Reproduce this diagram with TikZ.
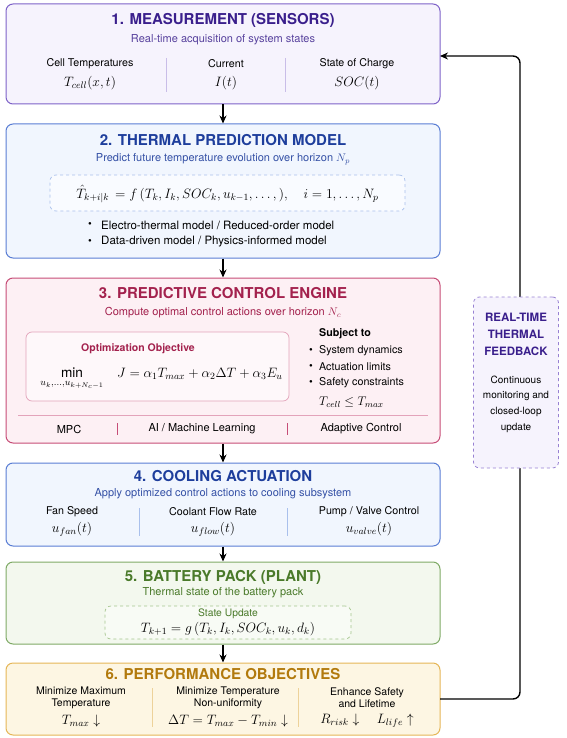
\RequirePackage{fix-cm}
\documentclass[tikz,border=0pt]{standalone}
\usepackage{amsmath}
\usepackage{fontspec}
\setmainfont{TeX Gyre Heros}
\usetikzlibrary{arrows.meta}

% stage palettes
\definecolor{pBd}{HTML}{7E62C8}\definecolor{pFill}{HTML}{F6F3FD}\definecolor{pT}{HTML}{3A1F8C}\definecolor{pSep}{HTML}{C9BDE8}
\definecolor{bBd}{HTML}{5A7ED4}\definecolor{bFill}{HTML}{F1F6FE}\definecolor{bT}{HTML}{1E3E9C}\definecolor{bSep}{HTML}{A9C0EC}
\definecolor{rBd}{HTML}{C64D77}\definecolor{rFill}{HTML}{FDF0F4}\definecolor{rT}{HTML}{A3214D}\definecolor{rSep}{HTML}{E3A3BA}
\definecolor{gBd}{HTML}{7FAA66}\definecolor{gFill}{HTML}{F3F8EE}\definecolor{gT}{HTML}{4A7A2A}\definecolor{gSep}{HTML}{A5C68E}
\definecolor{yBd}{HTML}{E5B657}\definecolor{yFill}{HTML}{FDF6E3}\definecolor{yT}{HTML}{B27A0D}\definecolor{ySep}{HTML}{EDD29A}

\newcommand\ttl{\fontsize{15}{18}\selectfont\bfseries}
\newcommand\sbt{\fontsize{11}{13}\selectfont}
\newcommand\lbl{\fontsize{10.7}{12}\selectfont}
\newcommand\mth{\fontsize{13.6}{16}\selectfont}

\tikzset{
  stage/.style={draw, rounded corners=7pt, line width=1pt, minimum width=434pt, inner sep=0pt},
  inner/.style={rounded corners=6pt, line width=0.7pt, inner sep=0pt},
  sep/.style={line width=0.8pt},
  flow/.style={line width=1.4pt, -{Stealth[length=8pt,width=7pt]}},
  txt/.style={inner sep=0pt, align=center},
  bul/.style={inner sep=0pt, anchor=west},
}

\begin{document}
\begin{tikzpicture}[x=1pt,y=-1pt]
\useasboundingbox (0,0) rectangle (566,738);

% stage boxes
\node[stage, draw=pBd, fill=pFill, minimum height=100pt] (b1) at (223,54) {};
\node[stage, draw=bBd, fill=bFill, minimum height=134pt] (b2) at (223,191) {};
\node[stage, draw=rBd, fill=rFill, minimum height=165pt] (b3) at (223,360.5) {};
\node[stage, draw=bBd, fill=bFill, minimum height=83pt] (b4) at (223,504.5) {};
\node[stage, draw=gBd, fill=gFill, minimum height=82pt] (b5) at (223,603) {};
\node[stage, draw=yBd, fill=yFill, minimum height=72pt] (b6) at (223,699) {};

% feedback loop (drawn first so the note box covers it)
\coordinate (fbin) at (440,56);
\coordinate (fbout) at (440,699);
\draw[flow, rounded corners=7pt] (fbout) -- (520,699) -- (520,56) -- (fbin);

\node[draw=pBd!80, dashed, fill=pFill, rounded corners=6pt, line width=0.8pt,
      minimum width=85pt, minimum height=171pt] (fb) at (516,382.5) {};
\node[txt, text=pT, font=\fontsize{11.5}{17}\selectfont\bfseries] (fbt) at (516,334) {REAL-TIME\\THERMAL\\FEEDBACK};
\node[txt, font=\fontsize{10}{15.7}\selectfont] (fbb) at (516,404) {Continuous\\monitoring and\\closed-loop\\update};

% flow arrows
\draw[flow] (b1.south) -- (b2.north);
\draw[flow] (b2.south) -- (b3.north);
\draw[flow] (b3.south) -- (b4.north);
\draw[flow] (b4.south) -- (b5.north);
\draw[flow] (b5.south) -- (b6.north);

% 1. measurement
\node[txt, text=pT] (t1) at (223,20) {\ttl 1. MEASUREMENT (SENSORS)};
\node[txt, text=pT!85] (s1) at (223,40) {\sbt Real-time acquisition of system states};
\node[txt] (c11) at (90,64) {\lbl Cell Temperatures};
\node[txt] (c12) at (226,64) {\lbl Current};
\node[txt] (c13) at (357,64) {\lbl State of Charge};
\node[txt] (m11) at (90,83) {\mth $T_{cell}(x,t)$};
\node[txt] (m12) at (226,83) {\mth $I(t)$};
\node[txt] (m13) at (357,83) {\mth $SOC(t)$};
\draw[sep, pSep] (166,58) -- (166,92);
\draw[sep, pSep] (285,58) -- (285,92);

% 2. thermal prediction model
\node[txt, text=bT] (t2) at (223,140) {\ttl 2. THERMAL PREDICTION MODEL};
\node[txt, text=bT!90] (s2) at (223,159) {\sbt Predict future temperature evolution over horizon $N_p$};
\node[draw=bSep, dashed, fill=white!60!bFill, inner, minimum width=355pt, minimum height=36pt] (eq2) at (227.5,193) {};
\node[txt] (f2) at (227.5,194) {\mth $\hat{T}_{k+i|k}\, = f\,(T_k, I_k, SOC_k, u_{k-1}, \ldots,),\quad i = 1, \ldots, N_p$};
\node[txt] (d21) at (90,225) {\lbl\textbullet};
\node[bul] (l21) at (101,225) {\fontsize{11.5}{13}\selectfont Electro-thermal model / Reduced-order model};
\node[txt] (d22) at (90,242) {\lbl\textbullet};
\node[bul] (l22) at (101,242) {\fontsize{11.5}{13}\selectfont Data-driven model / Physics-informed model};

% 3. predictive control engine
\node[txt, text=rT] (t3) at (223,293) {\ttl 3. PREDICTIVE CONTROL ENGINE};
\node[txt, text=rT] (s3) at (223,313) {\sbt Compute optimal control actions over horizon $N_c$};
\node[draw=rSep, fill=white!50!rFill, inner, minimum width=263pt, minimum height=69pt] (obj) at (157.5,366.5) {};
\node[txt, text=rT] (ot) at (138,349) {\fontsize{10.5}{12}\selectfont\bfseries Optimization Objective};
\node[txt, anchor=base] (mn) at (72,377) {\mth $\displaystyle\min_{u_k,\ldots,u_{k+N_c-1}}$};
\node[txt, anchor=base west] (jf) at (117,377) {\mth $J = \alpha_1 T_{max} + \alpha_2 \Delta T + \alpha_3 E_u$};
\node[bul] (sj) at (319,334) {\lbl\bfseries Subject to};
\node[txt] (d31) at (311,351) {\lbl\textbullet};
\node[bul] (l31) at (319,351) {\lbl System dynamics};
\node[txt] (d32) at (311,367) {\lbl\textbullet};
\node[bul] (l32) at (319,367) {\lbl Actuation limits};
\node[txt] (d33) at (311,383) {\lbl\textbullet};
\node[bul] (l33) at (319,383) {\lbl Safety constraints};
\node[bul] (l34) at (319,402) {\fontsize{12.5}{14}\selectfont $T_{cell} \leq T_{max}$};
\draw[sep, rSep] (18,415.5) -- (428,415.5);
\node[txt] (r31) at (69,429) {\fontsize{11}{13}\selectfont MPC};
\node[txt] (r32) at (202,429) {\fontsize{11}{13}\selectfont AI / Machine Learning};
\node[txt] (r33) at (361,429) {\fontsize{11}{13}\selectfont Adaptive Control};
\draw[sep, rBd, line width=1pt] (117,423) -- (117,435);
\draw[sep, rBd, line width=1pt] (287,423) -- (287,435);

% 4. cooling actuation
\node[txt, text=bT] (t4) at (223,476) {\ttl 4. COOLING ACTUATION};
\node[txt, text=bT!90] (s4) at (223,494) {\sbt Apply optimized control actions to cooling subsystem};
\node[txt] (c41) at (72,512) {\lbl Fan Speed};
\node[txt] (c42) at (213,512) {\lbl Coolant Flow Rate};
\node[txt] (c43) at (369,512) {\lbl Pump / Valve Control};
\node[txt] (m41) at (72,529) {\mth $u_{fan}(t)$};
\node[txt] (m42) at (213,529) {\mth $u_{flow}(t)$};
\node[txt] (m43) at (369,529) {\mth $u_{valve}(t)$};
\draw[sep, bSep] (139,508) -- (139,536);
\draw[sep, bSep] (287,508) -- (287,536);

% 5. battery pack
\node[txt, text=gT] (t5) at (223,577) {\ttl 5. BATTERY PACK (PLANT)};
\node[txt, text=gT] (s5) at (223,593) {\sbt Thermal state of the battery pack};
\node[draw=gSep, dashed, fill=white!40!gFill, inner, minimum width=246pt, minimum height=33pt] (su) at (228,622.5) {};
\node[txt, text=gT] (sut) at (228,614) {\fontsize{10.3}{11}\selectfont State Update};
\node[txt] (suf) at (228,629.5) {\mth $T_{k+1} = g\,(T_k, I_k, SOC_k, u_k, d_k)$};

% 6. performance objectives
\node[txt, text=yT] (t6) at (223,674) {\ttl 6. PERFORMANCE OBJECTIVES};
\node[txt, font=\fontsize{10.5}{12}\selectfont] (c61) at (81,698) {Minimize Maximum\\Temperature};
\node[txt, font=\fontsize{10.5}{12}\selectfont] (c62) at (228,698) {Minimize Temperature\\Non-uniformity};
\node[txt, font=\fontsize{10.5}{12}\selectfont] (c63) at (367,698) {Enhance Safety\\and Lifetime};
\node[txt] (m61) at (81,721) {\mth $T_{max}\downarrow$};
\node[txt] (m62) at (228,721) {\mth $\Delta T = T_{max} - T_{min}\downarrow$};
\node[txt] (m63) at (367,721) {\mth $R_{risk}\downarrow\quad L_{life}\uparrow$};
\draw[sep, ySep] (152,688) -- (152,727);
\draw[sep, ySep] (298,688) -- (298,727);
\end{tikzpicture}
\end{document}
